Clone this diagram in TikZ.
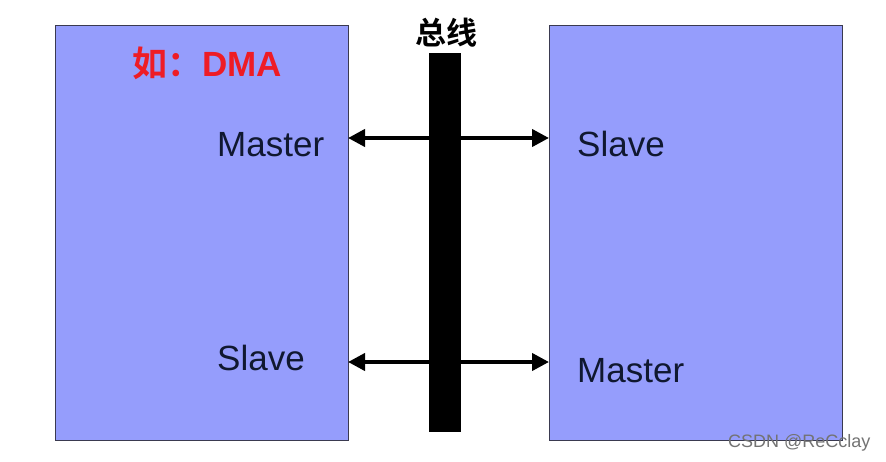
\documentclass[tikz,border=0pt]{standalone}
\usepackage{fontspec}
\setmainfont{Liberation Sans}
\newfontfamily\cjk{Noto Sans CJK SC}[BoldFont={* Bold}]
\usetikzlibrary{arrows.meta}
\definecolor{boxfill}{HTML}{959DFC}
\definecolor{boxline}{HTML}{3A3A50}
\definecolor{txt}{HTML}{101830}
\definecolor{dmared}{HTML}{EE1C25}
\begin{document}
\begin{tikzpicture}[x=1pt,y=-1pt,
  unit/.style={draw=boxline,line width=1pt,fill=boxfill,inner sep=0pt,anchor=north west},
  lbl/.style={font=\fontsize{35}{40}\selectfont,text=txt,anchor=base west,inner sep=0pt},
  conn/.style={line width=4pt,{Triangle[length=17pt,width=17pt]}-{Triangle[length=17pt,width=17pt]}}]
\useasboundingbox[fill=white] (0,0) rectangle (886,462);
\node[unit,minimum width=293pt,minimum height=415pt] (L) at (55,25) {};
\node[unit,minimum width=293pt,minimum height=415pt] (R) at (549,25) {};
\coordinate (l1) at (348,138); \coordinate (r1) at (549,138);
\coordinate (l2) at (348,362); \coordinate (r2) at (549,362);
\draw[conn] (l1) -- (r1);
\draw[conn] (l2) -- (r2);
\node[fill=black,minimum width=32pt,minimum height=379pt,inner sep=0pt,anchor=north west] (bus) at (429,53) {};
\node[font=\cjk\bfseries\fontsize{31}{34}\selectfont,inner sep=0pt] (bt) at (446,33) {总线};
\node[font=\bfseries\fontsize{35}{40}\selectfont,text=dmared,inner sep=0pt,anchor=base west] (dma) at (132,77) {{\cjk\bfseries 如：}DMA};
\node[lbl] (m1) at (217,157) {Master};
\node[lbl] (s1) at (217,370) {Slave};
\node[lbl] (s2) at (577,157) {Slave};
\node[lbl] (m2) at (577,382) {Master};
\node[font=\fontsize{18}{20}\selectfont,text=gray!90!black,inner sep=0pt,anchor=base west] (wm) at (728,447) {CSDN @ReCclay};
\end{tikzpicture}
\end{document}
